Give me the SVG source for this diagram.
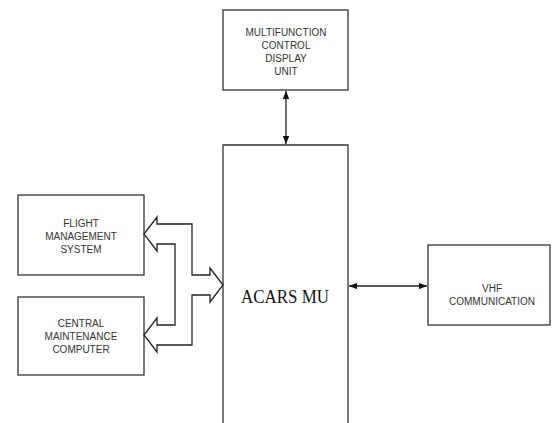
<svg xmlns="http://www.w3.org/2000/svg" width="554" height="423" viewBox="0 0 554 423">
<style>
.box{fill:#fff;stroke:#333;stroke-width:1.3}
.lbl{font-family:"Liberation Sans",Arial,sans-serif;font-size:10px;fill:#333;text-anchor:middle}
.big{font-family:"Liberation Serif","Times New Roman",serif;font-size:18px;fill:#111;text-anchor:middle}
.ln{fill:none;stroke:#222;stroke-width:1.3}
</style>
<defs>
<marker id="ah" viewBox="0 0 10 8" refX="10" refY="4" markerWidth="8" markerHeight="6.4" markerUnits="userSpaceOnUse" orient="auto-start-reverse">
<path d="M0,0 L10,4 L0,8 Z" fill="#111"/>
</marker>
</defs>
<rect width="554" height="423" fill="#fff"/>
<g id="mcdu">
<rect class="box" x="223" y="10" width="125" height="80"/>
<text class="lbl" x="286" y="36">MULTIFUNCTION</text>
<text class="lbl" x="286" y="49">CONTROL</text>
<text class="lbl" x="286" y="62">DISPLAY</text>
<text class="lbl" x="286" y="75">UNIT</text>
</g>
<g id="acars">
<path class="box" d="M223,424 L223,145 L348,145 L348,424"/>
<text class="big" x="285" y="303" textLength="88" lengthAdjust="spacingAndGlyphs">ACARS MU</text>
</g>
<g id="vhf">
<rect class="box" x="428" y="245" width="122" height="80"/>
<text class="lbl" x="492" y="292">VHF</text>
<text class="lbl" x="492" y="305">COMMUNICATION</text>
</g>
<g id="fms">
<rect class="box" x="18" y="195" width="126" height="80"/>
<text class="lbl" x="81" y="227">FLIGHT</text>
<text class="lbl" x="81" y="240">MANAGEMENT</text>
<text class="lbl" x="81" y="253">SYSTEM</text>
</g>
<g id="cmc">
<rect class="box" x="18" y="297" width="126" height="78"/>
<text class="lbl" x="81" y="327">CENTRAL</text>
<text class="lbl" x="81" y="340">MAINTENANCE</text>
<text class="lbl" x="81" y="353">COMPUTER</text>
</g>
<g id="connectors">
<line class="ln" x1="286" y1="91" x2="286" y2="144" marker-start="url(#ah)" marker-end="url(#ah)"/>
<line class="ln" x1="349" y1="286" x2="427" y2="286" marker-start="url(#ah)" marker-end="url(#ah)"/>
<polygon class="ln" points="223,285 210,268 210,275 192,275 192,224 157,224 157,217 144,234 157,251 157,244 175,244 175,325 157,325 157,318 144,335 157,352 157,345 192,345 192,295 210,295 210,302"/>
</g>
</svg>
